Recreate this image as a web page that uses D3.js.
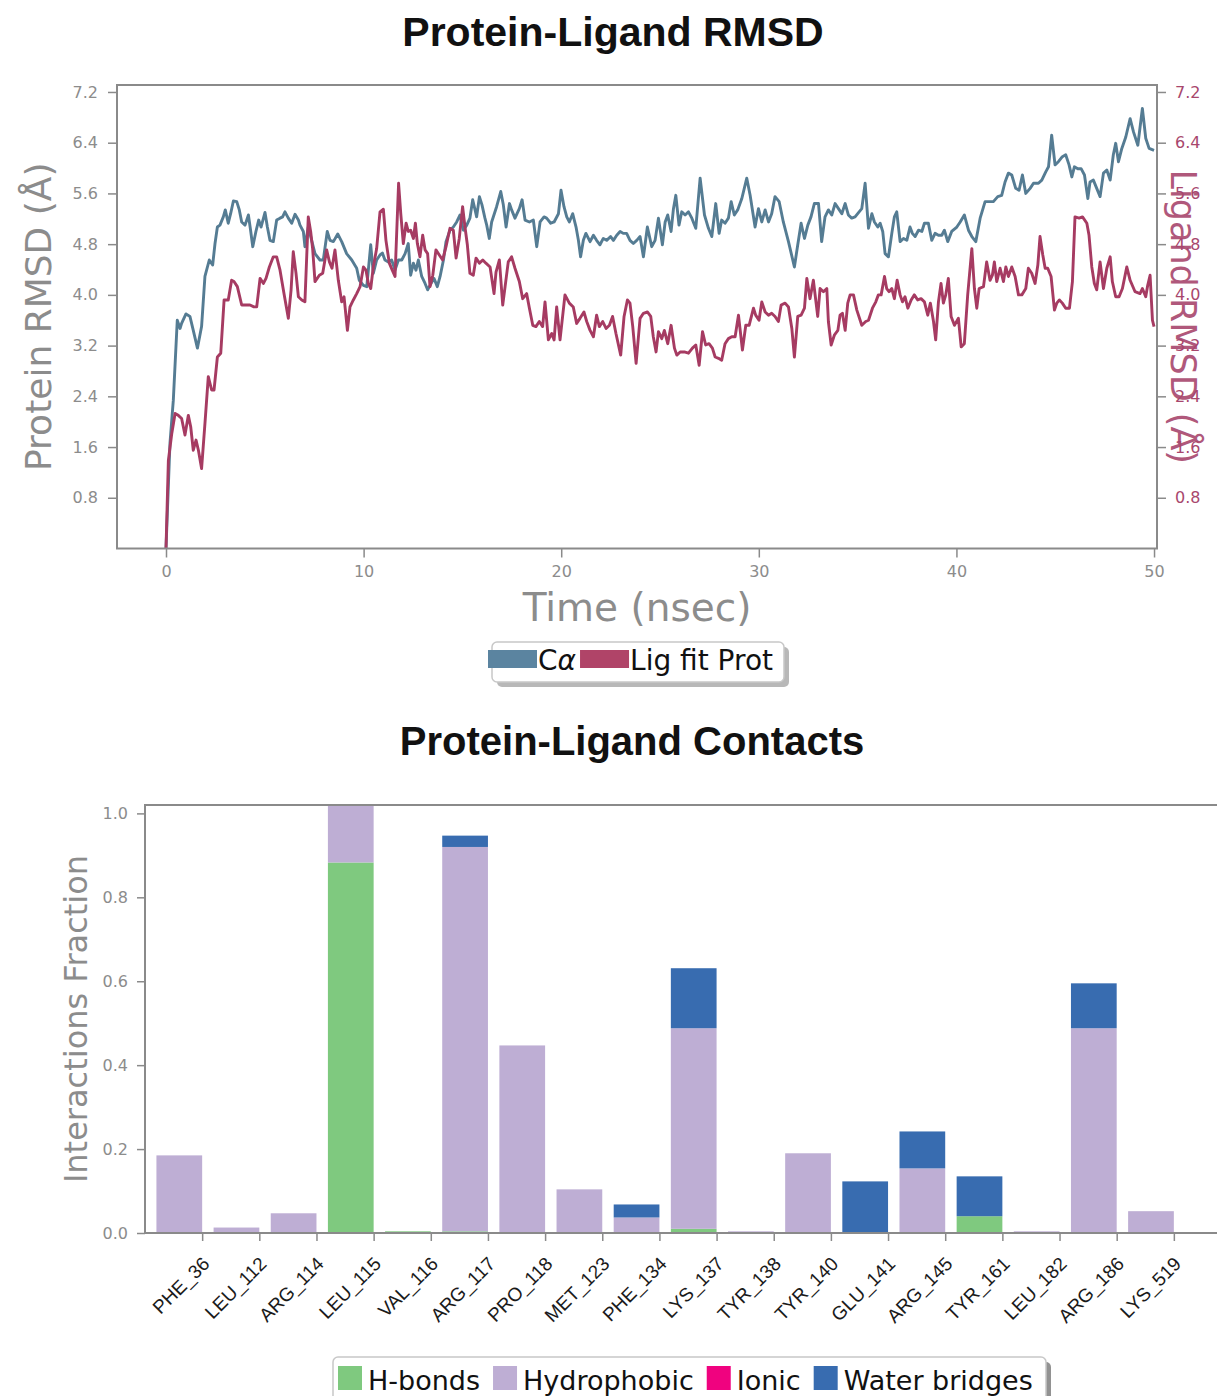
<!DOCTYPE html>
<html>
<head>
<meta charset="utf-8">
<script src="https://cdn.jsdelivr.net/npm/d3@7"></script>
<style>
  body { margin: 0; background: #fff; }
  svg { display: block; }
</style>
</head>
<body>
<svg id="fig" width="1217" height="1396"></svg>
<script>
// ---------------- RMSD trajectories: [time (ns), RMSD (Å)] ----------------
const caSeries = [
  [0,0],[0.20,1.66],[0.37,2.34],[0.57,3.60],[0.71,3.47],[0.79,3.55],[1.01,3.70],[1.21,3.66],[1.38,3.44],[1.59,3.16],
  [1.80,3.50],[1.97,4.29],[2.19,4.55],[2.36,4.47],[2.48,4.81],[2.60,5.07],[2.73,5.10],[2.90,5.23],[3.00,5.34],[3.15,5.13],
  [3.27,5.28],[3.41,5.48],[3.58,5.47],[3.71,5.34],[3.83,5.15],[4.00,5.10],[4.17,5.26],[4.28,5.02],[4.39,4.76],[4.55,5.00],
  [4.69,5.18],[4.81,5.07],[5.01,5.30],[5.13,5.07],[5.26,4.86],[5.43,4.84],[5.60,5.18],[5.77,5.21],[5.90,5.23],[6.02,5.31],
  [6.19,5.21],[6.36,5.13],[6.53,5.27],[6.70,5.18],[6.78,5.10],[6.95,5.00],[7.03,4.76],[7.20,5.07],[7.37,4.86],[7.54,4.65],
  [7.79,4.55],[7.96,4.55],[8.16,5.00],[8.30,4.86],[8.47,4.84],[8.69,4.96],[8.89,4.84],[9.14,4.65],[9.40,4.55],[9.65,4.42],
  [9.78,4.23],[9.99,4.15],[10.16,4.13],[10.36,4.79],[10.49,4.34],[10.66,4.55],[10.83,4.63],[10.95,4.66],[11.08,4.55],[11.25,4.52],
  [11.42,4.55],[11.59,4.39],[11.76,4.55],[11.93,4.55],[12.10,4.65],[12.26,4.81],[12.38,4.31],[12.52,4.50],[12.65,4.39],[12.77,4.55],
  [12.94,4.29],[13.11,4.18],[13.24,4.08],[13.36,4.15],[13.56,4.26],[13.73,4.13],[13.87,4.29],[14.04,4.55],[14.17,4.84],[14.37,5.02],
  [14.54,5.07],[14.71,5.15],[14.88,5.26],[15.05,5.02],[15.22,5.10],[15.38,5.21],[15.52,5.50],[15.64,5.34],[15.72,5.23],[15.86,5.55],
  [15.99,5.42],[16.14,5.21],[16.23,5.10],[16.36,4.89],[16.48,5.15],[16.73,5.39],[16.94,5.63],[17.07,5.42],[17.21,5.07],[17.38,5.44],
  [17.49,5.34],[17.66,5.21],[17.88,5.36],[18.02,5.50],[18.17,5.18],[18.39,5.15],[18.59,5.18],[18.76,4.76],[18.93,5.15],[19.13,5.23],
  [19.26,5.21],[19.47,5.13],[19.64,5.15],[19.86,5.28],[19.99,5.65],[20.14,5.39],[20.28,5.23],[20.41,5.15],[20.58,5.28],[20.75,5.07],
  [20.87,4.86],[20.98,4.60],[21.12,4.86],[21.25,4.97],[21.46,4.84],[21.63,4.94],[21.79,4.86],[21.96,4.79],[22.13,4.89],[22.30,4.86],
  [22.50,4.92],[22.64,4.86],[22.81,4.94],[22.98,5.00],[23.14,4.97],[23.31,4.97],[23.48,4.86],[23.65,4.81],[23.82,4.86],[23.99,4.92],
  [24.16,4.60],[24.36,5.07],[24.58,4.76],[24.75,4.86],[24.92,5.21],[25.12,4.79],[25.26,5.15],[25.39,5.26],[25.56,5.00],[25.68,5.36],
  [25.80,5.57],[25.96,5.10],[26.10,5.31],[26.27,5.26],[26.44,5.31],[26.61,5.21],[26.81,5.05],[27.03,5.84],[27.25,5.26],[27.45,5.05],
  [27.62,4.92],[27.82,5.44],[27.99,4.97],[28.12,5.18],[28.29,5.13],[28.46,5.21],[28.60,5.47],[28.76,5.26],[28.93,5.34],[29.14,5.52],
  [29.39,5.84],[29.56,5.57],[29.81,5.07],[29.98,5.36],[30.15,5.15],[30.32,5.34],[30.49,5.15],[30.65,5.28],[30.82,5.55],[31.03,5.47],
  [31.24,5.15],[31.50,4.84],[31.80,4.44],[31.97,4.79],[32.14,5.13],[32.31,4.89],[32.48,5.10],[32.64,5.23],[32.81,5.44],[33.02,5.44],
  [33.18,4.84],[33.35,5.23],[33.52,5.34],[33.69,5.26],[33.86,5.44],[34.03,5.36],[34.20,5.28],[34.37,5.44],[34.53,5.26],[34.70,5.21],
  [34.87,5.23],[35.21,5.36],[35.38,5.76],[35.55,5.05],[35.72,5.28],[35.85,5.15],[36.02,5.07],[36.14,5.13],[36.27,5.00],[36.39,4.65],
  [36.56,4.60],[36.73,4.97],[36.86,5.23],[36.98,5.31],[37.15,4.84],[37.32,4.89],[37.49,4.86],[37.65,5.07],[37.77,4.97],[37.91,4.92],
  [38.08,5.02],[38.25,5.00],[38.38,5.13],[38.58,5.13],[38.75,4.86],[38.92,4.97],[39.09,4.94],[39.26,4.94],[39.39,5.02],[39.56,4.84],
  [39.76,5.00],[40.02,5.07],[40.19,5.15],[40.40,5.26],[40.61,5.02],[40.78,4.92],[40.98,4.84],[41.20,5.21],[41.45,5.47],[41.70,5.47],
  [41.87,5.47],[42.09,5.55],[42.29,5.57],[42.46,5.78],[42.63,5.92],[42.80,5.89],[43.00,5.68],[43.17,5.65],[43.34,5.89],[43.51,5.60],
  [43.73,5.68],[43.90,5.76],[44.15,5.76],[44.32,5.81],[44.52,5.94],[44.66,6.02],[44.82,6.52],[44.99,6.05],[45.16,6.10],[45.36,6.18],
  [45.53,6.21],[45.70,6.05],[45.84,5.86],[45.97,6.02],[46.14,5.99],[46.31,5.99],[46.48,5.89],[46.65,5.52],[46.76,5.78],[46.93,5.81],
  [47.10,5.68],[47.27,5.55],[47.44,5.92],[47.61,5.97],[47.78,5.81],[47.94,6.21],[48.06,6.39],[48.20,6.10],[48.37,6.31],[48.57,6.49],
  [48.79,6.78],[48.96,6.57],[49.18,6.36],[49.41,6.94],[49.58,6.47],[49.75,6.31],[50.00,6.28]
];

const ligSeries = [
  [0,0],[0.12,1.39],[0.29,1.81],[0.46,2.13],[0.62,2.10],[0.79,2.05],[0.96,1.79],[1.13,2.10],[1.25,1.92],[1.38,1.55],
  [1.52,1.71],[1.64,1.55],[1.80,1.26],[1.97,1.97],[2.14,2.71],[2.31,2.50],[2.43,2.50],[2.60,3.02],[2.77,3.08],[2.94,3.92],
  [3.15,3.92],[3.32,4.23],[3.44,4.21],[3.61,4.13],[3.83,3.84],[4.05,3.84],[4.25,3.84],[4.45,3.81],[4.59,3.81],[4.76,4.26],
  [4.93,4.18],[5.06,4.26],[5.23,4.44],[5.43,4.60],[5.60,4.60],[5.77,4.39],[5.97,4.02],[6.19,3.63],[6.33,4.08],[6.44,4.68],
  [6.58,4.34],[6.70,3.97],[6.87,3.92],[7.03,3.89],[7.20,5.23],[7.32,5.00],[7.42,4.73],[7.54,4.21],[7.76,4.31],[7.93,4.34],
  [8.13,4.71],[8.27,4.52],[8.40,4.42],[8.55,4.71],[8.72,4.23],[8.89,3.89],[9.01,3.97],[9.18,3.44],[9.31,3.81],[9.48,3.92],
  [9.65,4.02],[9.82,4.13],[9.99,4.44],[10.12,4.39],[10.24,4.18],[10.36,4.10],[10.49,4.44],[10.66,4.73],[10.83,5.31],[11.00,5.35],
  [11.13,4.86],[11.30,4.50],[11.45,4.39],[11.59,4.29],[11.77,5.76],[11.88,5.28],[12.01,4.81],[12.15,5.13],[12.26,5.00],[12.38,5.02],
  [12.52,4.89],[12.62,5.13],[12.72,4.81],[12.85,4.60],[12.99,4.94],[13.11,4.71],[13.24,4.65],[13.36,4.13],[13.50,4.31],[13.66,4.71],
  [13.83,4.63],[14.00,4.55],[14.17,4.76],[14.37,5.05],[14.54,5.02],[14.68,4.58],[14.84,4.89],[15.01,5.39],[15.13,5.07],[15.25,4.79],
  [15.38,4.34],[15.55,4.31],[15.69,4.58],[15.86,4.50],[16.03,4.55],[16.19,4.50],[16.40,4.44],[16.60,4.02],[16.70,4.36],[16.87,4.55],
  [17.04,3.84],[17.16,4.13],[17.32,4.52],[17.49,4.60],[17.66,4.42],[17.88,4.21],[18.05,3.94],[18.25,4.02],[18.39,3.79],[18.56,3.52],
  [18.72,3.50],[18.89,3.58],[19.06,3.50],[19.18,3.89],[19.35,3.29],[19.52,3.39],[19.64,3.29],[19.77,3.81],[19.94,3.29],[20.19,4.00],
  [20.41,3.87],[20.61,3.81],[20.78,3.55],[20.95,3.63],[21.15,3.73],[21.29,3.58],[21.46,3.44],[21.63,3.34],[21.79,3.68],[21.93,3.50],
  [22.10,3.58],[22.27,3.47],[22.44,3.52],[22.60,3.66],[22.77,3.39],[23.01,3.05],[23.18,3.66],[23.35,3.92],[23.48,3.87],[23.62,3.50],
  [23.79,2.92],[23.99,3.63],[24.16,3.71],[24.36,3.73],[24.53,3.66],[24.66,3.34],[24.80,3.10],[24.92,3.42],[25.09,3.31],[25.22,3.44],
  [25.39,3.23],[25.56,3.52],[25.73,3.16],[25.85,3.05],[26.02,3.10],[26.23,3.10],[26.44,3.08],[26.64,3.16],[26.81,3.21],[26.98,2.89],
  [27.15,3.42],[27.31,3.21],[27.48,3.23],[27.65,3.16],[27.79,3.02],[27.96,3.00],[28.12,2.97],[28.29,3.23],[28.46,3.31],[28.63,3.34],
  [28.80,3.34],[28.97,3.68],[29.17,3.13],[29.34,3.52],[29.51,3.52],[29.73,3.79],[29.84,3.68],[30.01,3.60],[30.15,3.89],[30.32,3.73],
  [30.49,3.68],[30.65,3.71],[30.82,3.66],[30.99,3.58],[31.13,3.84],[31.33,3.87],[31.50,3.81],[31.67,3.47],[31.80,3.02],[31.97,3.66],
  [32.14,3.68],[32.31,3.79],[32.43,4.26],[32.59,3.94],[32.76,4.23],[32.98,3.66],[33.10,4.10],[33.27,4.05],[33.44,4.10],[33.52,3.58],
  [33.66,3.21],[33.83,3.37],[34.00,3.44],[34.11,3.68],[34.23,3.71],[34.37,3.44],[34.50,3.87],[34.62,4.00],[34.79,4.00],[34.96,3.76],
  [35.21,3.52],[35.41,3.58],[35.55,3.60],[35.75,3.79],[35.92,3.89],[36.05,4.00],[36.19,4.00],[36.36,4.29],[36.47,4.10],[36.59,4.05],
  [36.73,4.10],[36.86,3.94],[37.00,4.23],[37.15,4.00],[37.27,3.89],[37.40,3.97],[37.54,3.79],[37.71,3.92],[37.87,4.00],[38.04,3.92],
  [38.21,3.94],[38.38,3.89],[38.55,3.68],[38.68,3.87],[38.84,3.58],[38.95,3.29],[39.09,3.89],[39.22,4.18],[39.34,3.87],[39.46,4.00],
  [39.59,4.26],[39.73,3.66],[39.90,3.52],[40.10,3.63],[40.24,3.18],[40.40,3.23],[40.57,4.00],[40.78,4.73],[40.91,4.10],[41.03,3.79],
  [41.15,4.10],[41.37,4.13],[41.53,4.52],[41.70,4.23],[41.82,4.31],[41.92,4.52],[42.04,4.21],[42.21,4.42],[42.38,4.21],[42.50,4.44],
  [42.63,4.29],[42.80,4.44],[42.97,4.29],[43.14,4.00],[43.31,4.00],[43.51,4.10],[43.64,4.42],[43.81,4.34],[43.98,4.18],[44.12,4.47],
  [44.23,4.92],[44.37,4.63],[44.49,4.42],[44.62,4.42],[44.79,4.29],[44.96,3.76],[45.08,3.87],[45.21,3.92],[45.36,3.87],[45.53,3.79],
  [45.72,3.79],[45.87,4.21],[46.00,5.23],[46.21,5.21],[46.38,5.23],[46.60,5.13],[46.71,4.94],[46.85,4.44],[46.98,4.18],[47.10,4.08],
  [47.27,4.52],[47.44,4.10],[47.61,4.42],[47.78,4.60],[47.89,4.21],[48.06,3.97],[48.23,3.97],[48.40,4.10],[48.62,4.44],[48.79,4.23],
  [49.04,4.05],[49.29,4.02],[49.41,4.10],[49.58,3.97],[49.68,4.15],[49.80,4.31],[49.92,3.60],[50.00,3.50]
];

const rmsdTicks = [0.8, 1.6, 2.4, 3.2, 4.0, 4.8, 5.6, 6.4, 7.2];
const timeTicks = [0, 10, 20, 30, 40, 50];

// ---------------- Protein–ligand contacts (fraction of simulation time) ----------------
const residues = ["PHE_36","LEU_112","ARG_114","LEU_115","VAL_116","ARG_117","PRO_118","MET_123","PHE_134",
                  "LYS_137","TYR_138","TYR_140","GLU_141","ARG_145","TYR_161","LEU_182","ARG_186","LYS_519"];
const hBonds       = [0, 0, 0, 0.883, 0.004, 0.004, 0, 0, 0, 0.010, 0, 0, 0, 0, 0.040, 0, 0, 0];
const hydrophobic  = [0.185, 0.013, 0.047, 0.137, 0, 0.916, 0.447, 0.104, 0.037, 0.478, 0.004, 0.190, 0, 0.154, 0, 0.004, 0.488, 0.052];
const ionic        = [0, 0, 0, 0, 0, 0, 0, 0, 0, 0, 0, 0, 0, 0, 0, 0, 0, 0];
const waterBridges = [0, 0, 0, 0, 0, 0.027, 0, 0, 0.031, 0.143, 0, 0, 0.123, 0.088, 0.095, 0, 0.107, 0];
const contactTicks = [0.0, 0.2, 0.4, 0.6, 0.8, 1.0];
const contactTypes = ["H-bonds", "Hydrophobic", "Ionic", "Water bridges"];
const contactColors = ["#7fc97f", "#beaed4", "#f0027f", "#386cb0"];

// ---------------- shared styling ----------------
const svg = d3.select("#fig");
const GRAY = "#8a8a8a";
const LABEL_GRAY = "#8c8c8c";
const CA_COLOR = "#557c93";
const LIG_COLOR = "#a63b62";
const LIG_AXIS = "#a8476d";
const SANS = "'DejaVu Sans', sans-serif";
const TITLE_FONT = "'Liberation Sans', Arial, sans-serif";

function styleAxis(g, color, size) {
  g.select(".domain").remove();
  g.selectAll(".tick line").attr("stroke", GRAY).attr("stroke-width", 1.5);
  g.selectAll(".tick text").attr("fill", color).style("font-family", SANS).style("font-size", size + "px");
}

// =====================================================================
// Panel 1: RMSD vs time
// =====================================================================
const r = { left: 117, right: 1157, top: 85, bottom: 548.5 };
const xT = d3.scaleLinear().domain([-2.48, 50.15]).range([r.left, r.right]);
const yR = d3.scaleLinear().domain([0, 7.31]).range([r.bottom, r.top]);

svg.append("text")
  .attr("x", 613).attr("y", 46)
  .attr("text-anchor", "middle")
  .style("font-family", TITLE_FONT).style("font-weight", "bold").style("font-size", "41px")
  .attr("fill", "#111")
  .text("Protein-Ligand RMSD");

const fmt = d3.format(".1f");
svg.append("g").attr("transform", `translate(${r.left},0)`)
  .call(d3.axisLeft(yR).tickValues(rmsdTicks).tickFormat(fmt).tickSize(9).tickPadding(10))
  .call(g => styleAxis(g, LABEL_GRAY, 16));

svg.append("g").attr("transform", `translate(${r.right},0)`)
  .call(d3.axisRight(yR).tickValues(rmsdTicks).tickFormat(fmt).tickSize(9).tickPadding(9))
  .call(g => styleAxis(g, LIG_AXIS, 16));

svg.append("g").attr("transform", `translate(0,${r.bottom})`)
  .call(d3.axisBottom(xT).tickValues(timeTicks).tickSize(9).tickPadding(8))
  .call(g => styleAxis(g, LABEL_GRAY, 16));

svg.append("defs").append("clipPath").attr("id", "clipR")
  .append("rect").attr("x", r.left).attr("y", r.top)
  .attr("width", r.right - r.left).attr("height", r.bottom - r.top);

const line = d3.line().x(d => xT(d[0])).y(d => yR(d[1]));
const lines = svg.append("g").attr("clip-path", "url(#clipR)");
lines.append("path").datum(caSeries)
  .attr("d", line).attr("fill", "none").attr("stroke", CA_COLOR)
  .attr("stroke-width", 2.9).attr("stroke-linejoin", "round");
lines.append("path").datum(ligSeries)
  .attr("d", line).attr("fill", "none").attr("stroke", LIG_COLOR)
  .attr("stroke-width", 2.9).attr("stroke-linejoin", "round");

svg.append("rect")
  .attr("x", r.left).attr("y", r.top)
  .attr("width", r.right - r.left).attr("height", r.bottom - r.top)
  .attr("fill", "none").attr("stroke", GRAY).attr("stroke-width", 2);

// axis titles
svg.append("text")
  .attr("transform", `translate(51,${(r.top + r.bottom) / 2}) rotate(-90)`)
  .attr("text-anchor", "middle")
  .style("font-family", SANS).style("font-size", "36px").attr("fill", LABEL_GRAY)
  .text("Protein RMSD (Å)");

svg.append("text")
  .attr("transform", `translate(1171,${(r.top + r.bottom) / 2}) rotate(90)`)
  .attr("text-anchor", "middle")
  .style("font-family", SANS).style("font-size", "35px").attr("fill", LIG_AXIS)
  .attr("opacity", 0.9)
  .text("Ligand RMSD (Å)");

svg.append("text")
  .attr("x", (r.left + r.right) / 2).attr("y", 621)
  .attr("text-anchor", "middle")
  .style("font-family", SANS).style("font-size", "39px").attr("fill", LABEL_GRAY)
  .text("Time (nsec)");

// legend with drop shadow
const lg1 = svg.append("g");
lg1.append("rect").attr("x", 497).attr("y", 647).attr("width", 292).attr("height", 40)
  .attr("rx", 5).attr("fill", "#9a9a9a").attr("opacity", 0.7);
lg1.append("rect").attr("x", 492).attr("y", 642).attr("width", 292).attr("height", 40)
  .attr("rx", 5).attr("fill", "#fff").attr("stroke", "#c8c8c8").attr("stroke-width", 1.5);
const legendItems = [
  { label: "C", greek: "α", color: "#5b84a0" },
  { label: "Lig fit Prot", greek: "", color: "#b04468" }
];
let lx = 488;
legendItems.forEach(item => {
  lg1.append("rect").attr("x", lx).attr("y", 650).attr("width", 49).attr("height", 18).attr("fill", item.color);
  const t = lg1.append("text").attr("x", lx + 50).attr("y", 670)
    .style("font-family", SANS).style("font-size", "28px").attr("fill", "#111");
  t.append("tspan").text(item.label);
  if (item.greek) t.append("tspan").style("font-style", "italic").text(item.greek);
  lx += 50 + t.node().getComputedTextLength() + 4;
});

// =====================================================================
// Panel 2: stacked contact bars
// =====================================================================
const c = { left: 145, right: 1231, top: 805, bottom: 1233 };
const rows = residues.map((res, i) => ({
  residue: res,
  "H-bonds": hBonds[i],
  "Hydrophobic": hydrophobic[i],
  "Ionic": ionic[i],
  "Water bridges": waterBridges[i]
}));
const stacked = d3.stack().keys(contactTypes)(rows);
const yMax = d3.max(rows, d => contactTypes.reduce((s, k) => s + d[k], 0));

const xC = d3.scaleLinear().domain([-1, residues.length]).range([c.left, c.right]);
const yC = d3.scaleLinear().domain([0, yMax]).range([c.bottom, c.top]);
const colorC = d3.scaleOrdinal().domain(contactTypes).range(contactColors);

svg.append("text")
  .attr("x", 632).attr("y", 755)
  .attr("text-anchor", "middle")
  .style("font-family", TITLE_FONT).style("font-weight", "bold").style("font-size", "40px")
  .attr("fill", "#111")
  .text("Protein-Ligand Contacts");

svg.append("defs").append("clipPath").attr("id", "clipC")
  .append("rect").attr("x", c.left).attr("y", c.top)
  .attr("width", c.right - c.left).attr("height", c.bottom - c.top);

const barW = 0.8;
svg.append("g").attr("clip-path", "url(#clipC)")
  .selectAll("g").data(stacked).join("g")
  .attr("fill", d => colorC(d.key))
  .selectAll("rect").data(d => d).join("rect")
  .attr("x", (d, i) => xC(i - barW))
  .attr("width", (d, i) => xC(i) - xC(i - barW))
  .attr("y", d => yC(d[1]))
  .attr("height", d => Math.max(0, yC(d[0]) - yC(d[1])));

svg.append("g").attr("transform", `translate(${c.left},0)`)
  .call(d3.axisLeft(yC).tickValues(contactTicks).tickFormat(fmt).tickSize(8).tickPadding(9))
  .call(g => styleAxis(g, LABEL_GRAY, 16));

svg.append("g").attr("transform", `translate(0,${c.bottom})`)
  .call(d3.axisBottom(xC).tickValues(d3.range(residues.length)).tickFormat(i => residues[i]).tickSize(8))
  .call(g => {
    styleAxis(g, "#1a1a1a", 19);
    g.selectAll(".tick text")
      .style("font-family", "'Liberation Sans', Arial, sans-serif")
      .attr("y", null).attr("dy", null)
      .attr("text-anchor", "end")
      .attr("transform", "translate(8,32) rotate(-45)");
  });

svg.append("rect")
  .attr("x", c.left).attr("y", c.top)
  .attr("width", c.right - c.left).attr("height", c.bottom - c.top)
  .attr("fill", "none").attr("stroke", GRAY).attr("stroke-width", 2);

svg.append("text")
  .attr("transform", `translate(87,${(c.top + c.bottom) / 2}) rotate(-90)`)
  .attr("text-anchor", "middle")
  .style("font-family", SANS).style("font-size", "32px").attr("fill", LABEL_GRAY)
  .text("Interactions Fraction");

// legend
const lg2 = svg.append("g");
lg2.append("rect").attr("x", 338).attr("y", 1362).attr("width", 713).attr("height", 50)
  .attr("rx", 5).attr("fill", "#777").attr("opacity", 0.8);
lg2.append("rect").attr("x", 333).attr("y", 1357).attr("width", 713).attr("height", 50)
  .attr("rx", 5).attr("fill", "#fff").attr("stroke", "#c8c8c8").attr("stroke-width", 1.5);
let bx = 338;
contactTypes.forEach(k => {
  lg2.append("rect").attr("x", bx).attr("y", 1366).attr("width", 24).attr("height", 24).attr("fill", colorC(k));
  const t = lg2.append("text").attr("x", bx + 30).attr("y", 1390)
    .style("font-family", SANS).style("font-size", "27px").attr("fill", "#111").text(k);
  bx += 30 + t.node().getComputedTextLength() + 13;
});
</script>
</body>
</html>
